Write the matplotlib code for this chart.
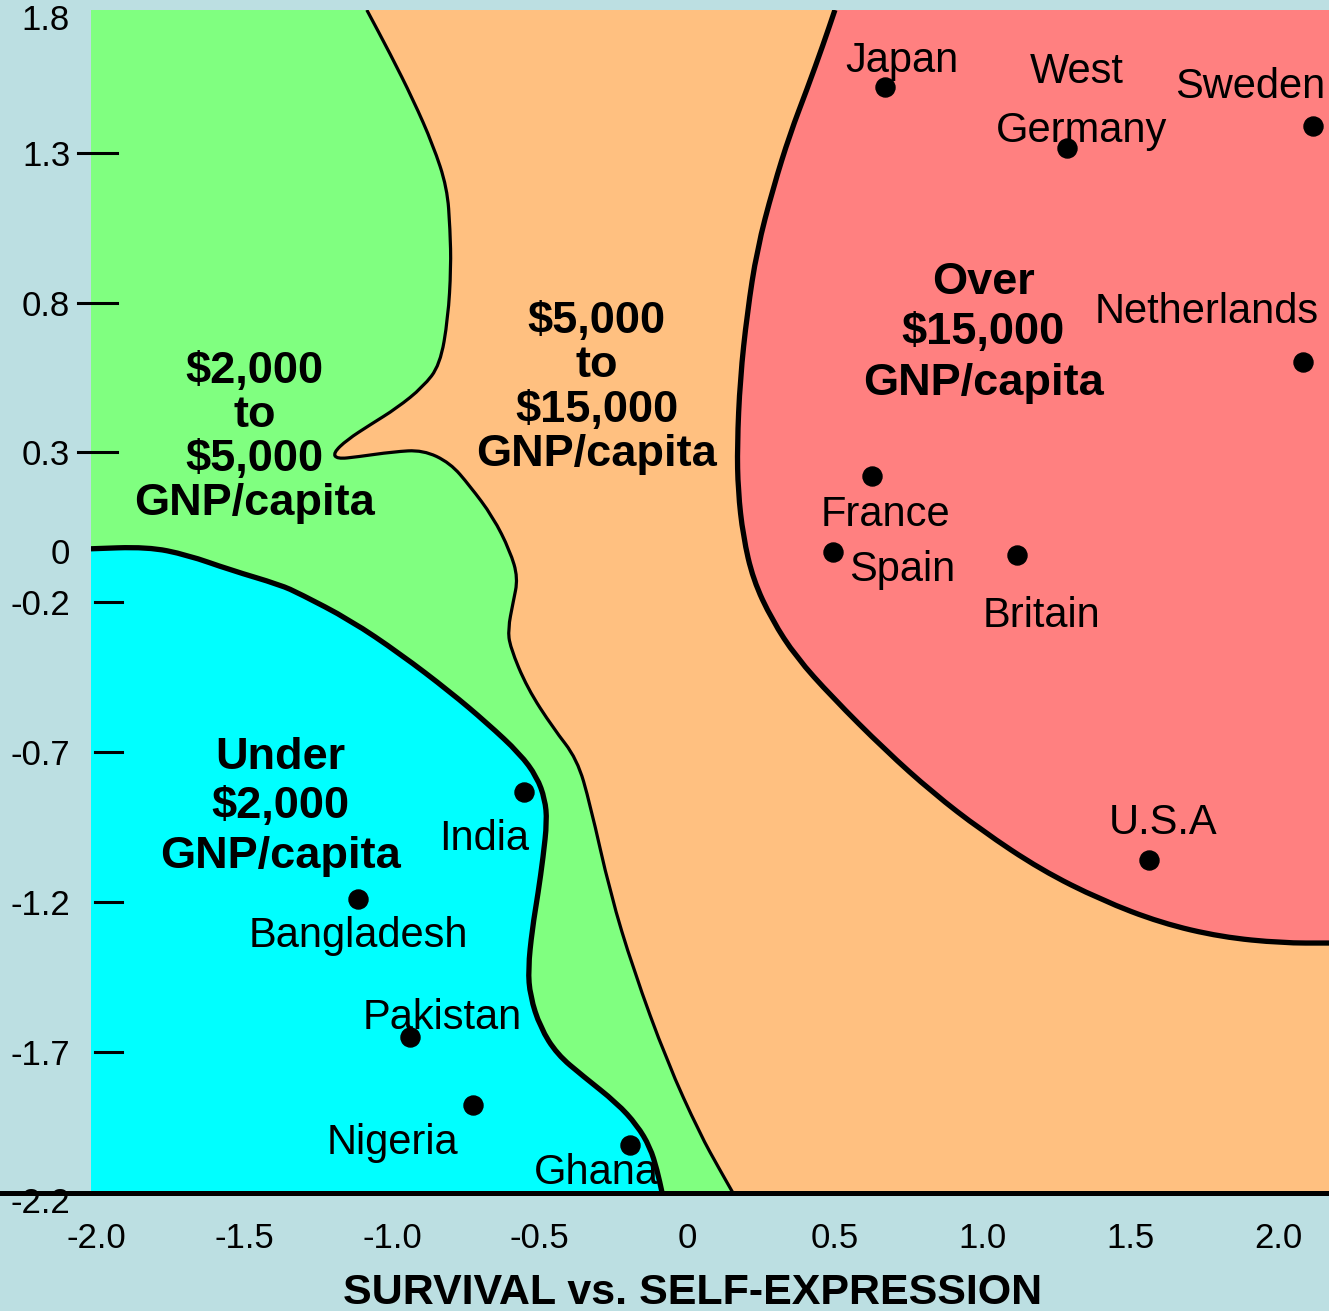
# -*- coding: utf-8 -*-
# GNP per capita zones on the survival / self-expression axis
import matplotlib.pyplot as plt
from matplotlib.lines import Line2D
from matplotlib.path import Path
from matplotlib.patches import PathPatch

plt.rcParams['font.family'] = ['Liberation Sans', 'DejaVu Sans']

# country positions
countries = ['Japan', 'West Germany', 'Sweden', 'Netherlands', 'France', 'Spain',
             'Britain', 'U.S.A', 'India', 'Bangladesh', 'Pakistan', 'Nigeria', 'Ghana']
country_x = [0.670, 1.286, 2.119, 2.084, 0.627, 0.494, 1.117, 1.564,
             -0.553, -1.115, -0.939, -0.726, -0.194]
country_y = [1.520, 1.316, 1.389, 0.603, 0.222, -0.034, -0.042, -1.060,
             -0.834, -1.189, -1.650, -1.877, -2.011]

# zone boundaries (traced)
cyan_x = [-2.03, -1.828, -1.693, -1.548, -1.378, -1.311, -1.142, -0.972, -0.803,
          -0.678, -0.566, -0.509, -0.482, -0.475, -0.488, -0.505, -0.525, -0.539,
          -0.532, -0.498, -0.441, -0.353, -0.238, -0.170, -0.126, -0.102, -0.085]
cyan_y = [-0.022, -0.015, -0.042, -0.092, -0.142, -0.172, -0.259, -0.372, -0.499,
          -0.603, -0.706, -0.783, -0.857, -0.930, -1.050, -1.170, -1.291, -1.424,
          -1.514, -1.618, -1.708, -1.781, -1.871, -1.945, -2.018, -2.095, -2.171]

go_x = [-1.085, -1.006, -0.928, -0.861, -0.813, -0.803, -0.800, -0.810, -0.837,
        -0.895, -0.983, -1.074, -1.152, -1.199, -1.186, -1.118, -0.996, -0.895,
        -0.803, -0.736, -0.658, -0.600, -0.573, -0.590, -0.607, -0.600, -0.542,
        -0.454, -0.373, -0.329, -0.261, -0.183, -0.068, 0.043, 0.111, 0.155]
go_y = [1.776, 1.630, 1.476, 1.326, 1.183, 1.043, 0.916, 0.748, 0.592,
        0.518, 0.448, 0.392, 0.342, 0.298, 0.278, 0.285, 0.302, 0.308,
        0.265, 0.188, 0.085, -0.029, -0.119, -0.202, -0.289, -0.349, -0.486,
        -0.620, -0.723, -0.873, -1.170, -1.424, -1.734, -1.974, -2.095, -2.171]

red_x = [0.500, 0.460, 0.406, 0.348, 0.291, 0.236, 0.203, 0.179, 0.169, 0.172,
         0.189, 0.223, 0.287, 0.368, 0.490, 0.670, 0.832, 0.995, 1.198, 1.401,
         1.604, 1.808, 2.014, 2.173]
red_y = [1.776, 1.660, 1.513, 1.363, 1.183, 0.976, 0.765, 0.545, 0.322, 0.172,
         0.021, -0.125, -0.259, -0.382, -0.516, -0.693, -0.836, -0.960, -1.093, -1.193,
         -1.270, -1.317, -1.337, -1.337]

# zone titles
zone_text = ['$2,000\nto\n$5,000\nGNP/capita',
             '$5,000\nto\n$15,000\nGNP/capita',
             'Over\n$15,000\nGNP/capita',
             'Under\n$2,000\nGNP/capita']
zone_x = [-1.464, -0.306, 1.002, -1.379]
zone_y = [0.350, 0.515, 0.699, -0.883]
zone_spacing = [1.1, 1.1, 1.3, 1.27]

# ticks
xticks = [-2.0, -1.5, -1.0, -0.5, 0, 0.5, 1.0, 1.5, 2.0]
xticklabels = ['-2.0', '-1.5', '-1.0', '-0.5', '0', '0.5', '1.0', '1.5', '2.0']
yticks = [1.3, 0.8, 0.3, -0.2, -0.7, -1.2, -1.7]
yticklabels = ['1.3', '0.8', '0.3', '-0.2', '-0.7', '-1.2', '-1.7']
yextra = [('1.8', 1.74), ('0', -0.04), ('-2.2', -2.205)]

XLIM = (-2.019, 2.173)
YLIM = (-2.171, 1.776)

BG = '#BCDFE2'
GREEN = '#80FF80'
ORANGE = '#FFC080'
RED = '#FF8080'
CYAN = '#00FFFF'

# label offsets in pixels from each dot
label_pos = {
    'Japan': [('Japan', 17, 15)],
    'West Germany': [('West', 10, 65), ('Germany', 15, 6)],
    'Sweden': [('Sweden', -63, 28)],
    'Netherlands': [('Netherlands', -96, 39)],
    'France': [('France', 13, -50)],
    'Spain': [('Spain', 69, -29)],
    'Britain': [('Britain', 24, -72)],
    'U.S.A': [('U.S.A', 14, 26)],
    'India': [('India', -40, -58)],
    'Bangladesh': [('Bangladesh', 0, -48)],
    'Pakistan': [('Pakistan', 32, 8)],
    'Nigeria': [('Nigeria', -80, -49)],
    'Ghana': [('Ghana', -34, -39)],
}


def smooth_path(xs, ys, corners=None):
    # rounded path through the traced points (quadratic pieces between midpoints)
    pts = list(zip(xs, ys))
    mids = [((a[0] + b[0]) / 2, (a[1] + b[1]) / 2) for a, b in zip(pts[:-1], pts[1:])]
    verts = [pts[0], mids[0]]
    codes = [Path.MOVETO, Path.LINETO]
    for i in range(1, len(pts) - 1):
        verts += [pts[i], mids[i]]
        codes += [Path.CURVE3, Path.CURVE3]
    verts.append(pts[-1])
    codes.append(Path.LINETO)
    if corners:
        for c in corners:
            verts.append(c)
            codes.append(Path.LINETO)
        verts.append(pts[0])
        codes.append(Path.CLOSEPOLY)
    return Path(verts, codes)


fig = plt.figure(figsize=(13.29, 13.11), dpi=100, facecolor=BG)
ax_rect = [91 / 1329, 118 / 1311, 1238 / 1329, 1183 / 1311]
ax = fig.add_axes(ax_rect)
ax.set_facecolor(ORANGE)
ax.set_xlim(*XLIM)
ax.set_ylim(*YLIM)
for s in ax.spines.values():
    s.set_visible(False)

# zone fills
ax.add_patch(PathPatch(smooth_path(go_x, go_y, [(XLIM[0], YLIM[0]), (XLIM[0], YLIM[1])]),
                       facecolor=GREEN, lw=0, zorder=1))
ax.add_patch(PathPatch(smooth_path(cyan_x, cyan_y, [(XLIM[0], YLIM[0])]),
                       facecolor=CYAN, lw=0, zorder=1.1))
ax.add_patch(PathPatch(smooth_path(red_x, red_y, [(XLIM[1], YLIM[1])]),
                       facecolor=RED, lw=0, zorder=1.1))

# boundary lines
ax.add_patch(PathPatch(smooth_path(go_x, go_y), fill=False, edgecolor='k', lw=2.3,
                       joinstyle='round', zorder=2))
ax.add_patch(PathPatch(smooth_path(cyan_x, cyan_y), fill=False, edgecolor='k', lw=3.8,
                       joinstyle='round', zorder=2))
ax.add_patch(PathPatch(smooth_path(red_x, red_y), fill=False, edgecolor='k', lw=3.8,
                       joinstyle='round', zorder=2))

# countries
ax.plot(country_x, country_y, 'o', color='k', markersize=13.7, zorder=5)
for name, cx, cy in zip(countries, country_x, country_y):
    for txt, dx, dy in label_pos[name]:
        ax.annotate(txt, (cx, cy), xytext=(dx, dy), textcoords='offset pixels',
                    ha='center', va='baseline', fontsize=30, zorder=6)

# zone titles
for txt, zx, zy, ls in zip(zone_text, zone_x, zone_y, zone_spacing):
    ax.text(zx, zy, txt, ha='center', va='center', multialignment='center',
            fontsize=32.5, fontweight='bold', linespacing=ls, zorder=6)

# x axis
ax.set_xticks(xticks)
ax.set_xticklabels(xticklabels)
ax.set_xticks(xticks[1:], minor=True)
ax.tick_params(axis='x', which='major', length=0, direction='in', pad=21, labelsize=25)
ax.tick_params(axis='x', which='minor', length=15, width=1.6, direction='in')
ax.set_xlabel('SURVIVAL vs. SELF-EXPRESSION', fontsize=31, fontweight='bold')
ax.xaxis.set_label_coords(0.486, -0.068)

# y axis
ax.set_yticks(yticks)
ax.set_yticklabels(yticklabels)
ax.tick_params(axis='y', length=0, direction='in', pad=15, labelsize=25)
ytrans = ax.get_yaxis_transform()
for v in yticks:
    if v > 0:
        ax.plot([-0.0105, 0.021], [v, v], color='k', lw=2.2, transform=ytrans,
                clip_on=False, zorder=4)
    else:
        ax.plot([0.0032, 0.025], [v, v], color='k', lw=2.2, transform=ytrans,
                clip_on=False, zorder=4)
for txt, v in yextra:
    ax.text(-0.017, v, txt, transform=ytrans, ha='right', va='center',
            fontsize=25, clip_on=False)

# thick base line across the whole width
fig.add_artist(Line2D([0, 1], [ax_rect[1], ax_rect[1]], transform=fig.transFigure,
                      color='k', lw=3.6))

fig.savefig('out.png', dpi=100, facecolor=BG)
